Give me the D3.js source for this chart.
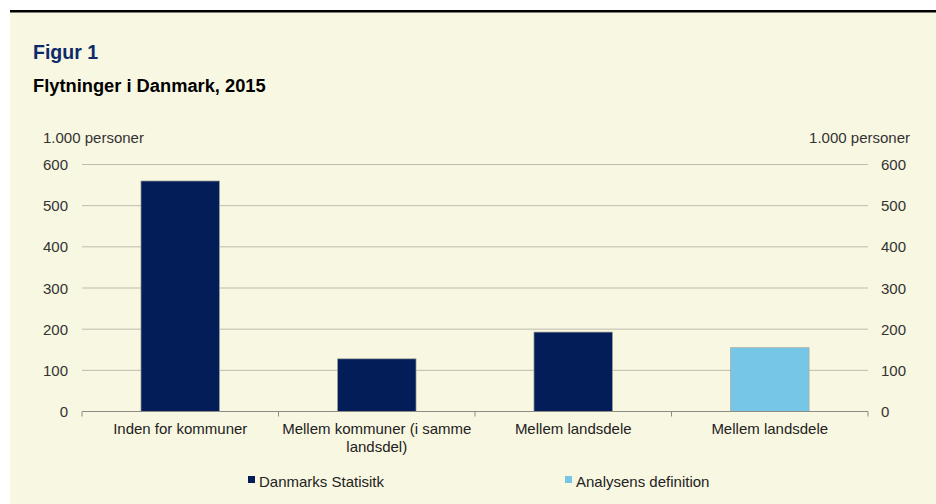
<!DOCTYPE html>
<html>
<head>
<meta charset="utf-8">
<script src="https://cdn.jsdelivr.net/npm/d3@7"></script>
<style>
  body { margin: 0; background: #fff; }
  svg { display: block; font-family: "Liberation Sans", Arial, sans-serif; }
</style>
</head>
<body>
<svg id="chart" width="936" height="504"></svg>
<script>
const categories = ["Inden for kommuner", "Mellem kommuner (i samme|landsdel)", "Mellem landsdele", "Mellem landsdele"];
const values = [560, 128, 193, 155];
const series = ["Danmarks Statisitk", "Danmarks Statisitk", "Danmarks Statisitk", "Analysens definition"];
const legendNames = ["Danmarks Statisitk", "Analysens definition"];
const yTicks = [0, 100, 200, 300, 400, 500, 600];

let colors = { "Danmarks Statisitk": "#031d59", "Analysens definition": "#76c7e7" };

let svg = d3.select("#chart");

// background panel and top rule
svg.append("rect").attr("x", 10).attr("y", 10).attr("width", 926).attr("height", 494).attr("fill", "#f8f7e1");
svg.append("rect").attr("x", 10).attr("y", 10).attr("width", 926).attr("height", 2.5).attr("fill", "#000");

svg.append("text").attr("x", 33).attr("y", 59).text("Figur 1")
  .attr("font-size", 19.5).attr("font-weight", 700).attr("fill", "#0d2a6b");
svg.append("text").attr("x", 33).attr("y", 92).text("Flytninger i Danmark, 2015")
  .attr("font-size", 18.3).attr("font-weight", 700).attr("fill", "#000");

let plot = { left: 82, right: 868, top: 164.5, bottom: 411.5 };
let fs = 15;

let x = d3.scaleBand().domain(d3.range(categories.length)).range([plot.left, plot.right]).paddingInner(0.6).paddingOuter(0.3);
let xEdge = d3.scaleLinear().domain([0, categories.length]).range([plot.left, plot.right]);
let y = d3.scaleLinear().domain([0, 600]).range([plot.bottom, plot.top]);

// gridlines
svg.append("g").selectAll("line").data(yTicks.filter((d) => d > 0)).enter().append("line")
  .attr("x1", plot.left).attr("x2", plot.right)
  .attr("y1", (d) => y(d)).attr("y2", (d) => y(d))
  .attr("stroke", "#bdbcae").attr("stroke-width", 1);

// axis labels, both sides
svg.append("g").selectAll("text").data(yTicks).enter().append("text")
  .attr("x", 68).attr("y", (d) => y(d) + 5.5).attr("text-anchor", "end")
  .attr("font-size", fs).attr("fill", "#333").text((d) => d);
svg.append("g").selectAll("text").data(yTicks).enter().append("text")
  .attr("x", 881).attr("y", (d) => y(d) + 5.5).attr("text-anchor", "start")
  .attr("font-size", fs).attr("fill", "#333").text((d) => d);

svg.append("text").attr("x", 43).attr("y", 143).text("1.000 personer").attr("font-size", fs).attr("fill", "#333");
svg.append("text").attr("x", 910).attr("y", 143).attr("text-anchor", "end").text("1.000 personer").attr("font-size", fs).attr("fill", "#333");

// bars
svg.append("g").selectAll("rect").data(values).enter().append("rect")
  .attr("x", (d, i) => x(i)).attr("width", x.bandwidth())
  .attr("y", (d) => y(d)).attr("height", (d) => y(0) - y(d))
  .attr("fill", (d, i) => colors[series[i]])
  .attr("stroke", "#a9a9a0").attr("stroke-width", 0.7);

// x axis
let xAxis = svg.append("g");
xAxis.append("line").attr("x1", plot.left).attr("x2", plot.right).attr("y1", plot.bottom).attr("y2", plot.bottom)
  .attr("stroke", "#8c8c84").attr("stroke-width", 1.2);
xAxis.selectAll("line.tick").data(d3.range(categories.length + 1)).enter().append("line")
  .attr("class", "tick")
  .attr("x1", (d) => xEdge(d)).attr("x2", (d) => xEdge(d))
  .attr("y1", plot.bottom).attr("y2", plot.bottom + 5)
  .attr("stroke", "#8c8c84").attr("stroke-width", 1);

let catText = xAxis.selectAll("text").data(categories).enter().append("text")
  .attr("text-anchor", "middle").attr("font-size", fs).attr("fill", "#222")
  .attr("y", 434);
catText.each(function (d, i) {
  let lines = d.split("|");
  let el = d3.select(this);
  lines.forEach((l, j) => {
    el.append("tspan").attr("x", (xEdge(i) + xEdge(i + 1)) / 2).attr("dy", j === 0 ? 0 : 18).text(l);
  });
});

// legend
let legendX = [248, 565];
let legend = svg.append("g").selectAll("g").data(legendNames).enter().append("g")
  .attr("transform", (d, i) => `translate(${legendX[i]}, 481)`);
legend.append("rect").attr("x", 0).attr("y", -5).attr("width", 7).attr("height", 7).attr("fill", (d) => colors[d]);
legend.append("text").attr("x", 11).attr("y", 5.5).attr("font-size", fs).attr("fill", "#222").text((d) => d);
</script>
</body>
</html>
